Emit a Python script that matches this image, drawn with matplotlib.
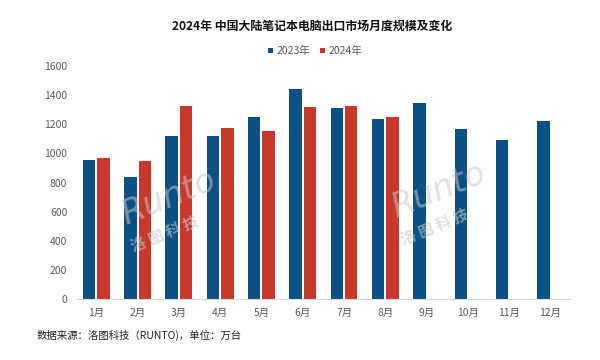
import matplotlib
matplotlib.use("Agg")
import matplotlib.pyplot as plt
import numpy as np

plt.rcParams['font.family'] = ['Noto Sans CJK SC', 'DejaVu Sans']

months = ["1月", "2月", "3月", "4月", "5月", "6月", "7月", "8月", "9月", "10月", "11月", "12月"]
v2023 = [955, 836, 1117, 1121, 1247, 1443, 1313, 1238, 1345, 1165, 1094, 1219]
v2024 = [966, 948, 1327, 1172, 1156, 1315, 1322, 1247, np.nan, np.nan, np.nan, np.nan]
yticks = [0, 200, 400, 600, 800, 1000, 1200, 1400, 1600]

blue = "#0c5185"
red = "#c8392b"
gray = "#595959"

fig = plt.figure(figsize=(6, 3.6), dpi=100)
ax = fig.add_axes([0.126, 0.169, 0.826, 0.648])

x = np.arange(len(months))
w = 0.30
off = 0.175
ax.bar(x - off, v2023, width=w, color=blue, label="2023年", zorder=2)
ax.bar(x + off, v2024, width=w, color=red, label="2024年", zorder=2)

ax.set_xlim(-0.5, len(months) - 0.5)
ax.set_ylim(0, 1600)
ax.set_yticks(yticks)
ax.set_yticklabels([str(t) for t in yticks], fontsize=7.5, color=gray)
ax.set_xticks(x)
ax.set_xticklabels(months, fontsize=7.5, color=gray)
ax.tick_params(length=0, pad=6)
for s in ["top", "right", "left"]:
    ax.spines[s].set_visible(False)
ax.spines["bottom"].set_color("#d9d9d9")
ax.spines["bottom"].set_linewidth(0.8)

# watermarks
for (wx, wy) in [(0.28, 0.45), (0.73, 0.47)]:
    fig.text(wx, wy, "Runto", fontsize=24, color="#c8c8c8", alpha=0.55, rotation=22,
             ha="center", va="center", family=["DejaVu Sans"], style="italic", zorder=5)
    fig.text(wx - 0.005, wy - 0.10, "洛 图 科 技", fontsize=11, color="#c8c8c8", alpha=0.6,
             rotation=22, ha="center", va="center", fontweight="bold", zorder=5)

fig.text(0.52, 0.926, "2024年 中国大陆笔记本电脑出口市场月度规模及变化", fontsize=8.6,
         fontweight="bold", ha="center", va="center", color="#111111")

leg = fig.legend(loc="center", bbox_to_anchor=(0.525, 0.858), ncol=2, frameon=False,
                 fontsize=7.5, handlelength=0.5, handleheight=0.5, handletextpad=0.3,
                 columnspacing=1.0)
for t in leg.get_texts():
    t.set_color(gray)

fig.text(0.061, 0.067, "数据来源：洛图科技（RUNTO)，单位：万台", fontsize=7.5, color="#222222",
         ha="left", va="center")

fig.savefig("out.png", dpi=100, facecolor="white")
